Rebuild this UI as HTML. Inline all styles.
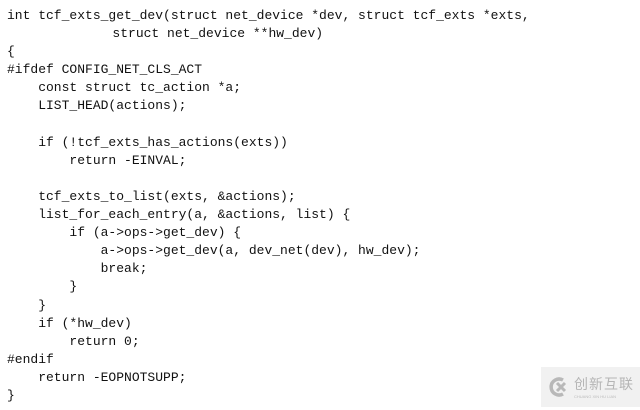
<!DOCTYPE html>
<html><head><meta charset="utf-8"><style>
html,body{margin:0;padding:0;background:#fff;}
body{width:640px;height:410px;position:relative;overflow:hidden;}
pre{position:absolute;left:7px;top:7px;margin:0;font-family:"Liberation Mono",monospace;font-size:13px;line-height:18.1px;color:#111;}
.wm{position:absolute;left:541px;top:367px;width:99px;height:40px;background:#f1f1f1;}
.wm .t{position:absolute;left:33px;top:7px;font-family:"Noto Sans CJK SC",sans-serif;font-size:14px;color:#b5b5b5;letter-spacing:1px;}
.wm .s{position:absolute;left:33px;top:27px;font-family:"Liberation Sans",sans-serif;font-size:4px;color:#bbb;}
</style></head><body>
<pre>int tcf_exts_get_dev(struct net_device *dev, struct tcf_exts *exts,
             <span style="padding-left:4px">struct net_device **hw_dev)</span>
{
#ifdef CONFIG_NET_CLS_ACT
    const struct tc_action *a;
    LIST_HEAD(actions);

    if (!tcf_exts_has_actions(exts))
        return -EINVAL;

    tcf_exts_to_list(exts, &amp;actions);
    list_for_each_entry(a, &amp;actions, list) {
        if (a-&gt;ops-&gt;get_dev) {
            a-&gt;ops-&gt;get_dev(a, dev_net(dev), hw_dev);
            break;
        }
    }
    if (*hw_dev)
        return 0;
#endif
    return -EOPNOTSUPP;
}</pre>
<div class="wm">
<svg style="position:absolute;left:8px;top:10px" width="22" height="20" viewBox="0 0 22 20"><path d="M14 3 A8 8 0 1 0 14 17" fill="none" stroke="#b8b8b8" stroke-width="3.5"/><path d="M8 6 L16 14 M16 6 L8 14" stroke="#b8b8b8" stroke-width="3"/></svg>
<div class="t">创新互联</div>
<div class="s">CHUANG XIN HU LIAN</div>
</div>
</body></html>
